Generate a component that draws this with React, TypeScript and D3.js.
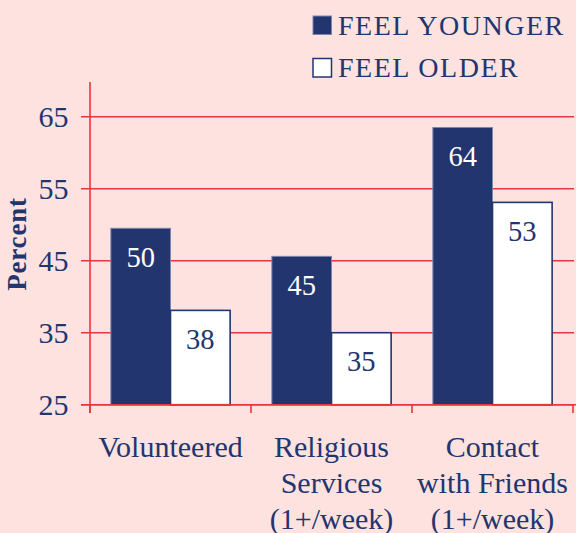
import * as d3 from "d3";

const categories = ["Volunteered", "Religious Services (1+/week)", "Contact with Friends (1+/week)"];
const categoryLines = [["Volunteered"], ["Religious", "Services", "(1+/week)"], ["Contact", "with Friends", "(1+/week)"]];
const series = ["FEEL YOUNGER", "FEEL OLDER"];
const youngerValues = [49.5, 45.6, 63.5];
const olderValues = [38.1, 35, 53.1];
const youngerLabels = ["50", "45", "64"];
const olderLabels = ["38", "35", "53"];
const yTicks = [25, 35, 45, 55, 65];

const W = 576;
const H = 533;
const BG = "#fde2df";
const NAVY = "#22356f";
const RED = "#e8353a";
const FONT = '"Liberation Serif", "Times New Roman", serif';

const left = 90;
const right = 573;
const bottom = 404.7;
const axisTop = 82;

export default function App() {
  const y = d3.scaleLinear().domain([25, 65]).range([bottom, bottom - 40 * 7.2]);
  const x = d3.scaleBand<string>().domain(categories).range([left, right]).padding(0);
  const xs = d3.scaleBand<string>().domain(series).range([0, x.bandwidth()]).paddingInner(0).paddingOuter(0.35);

  const rows = categories.map((c, i) => ({
    cat: c,
    lines: categoryLines[i],
    vals: [
      { s: series[0], v: youngerValues[i], label: youngerLabels[i] },
      { s: series[1], v: olderValues[i], label: olderLabels[i] },
    ],
  }));

  return (
    <svg width={W} height={H} style={{ position: "absolute", left: 0, top: 0, background: BG, fontFamily: FONT }}>
      <rect x={0} y={0} width={W} height={H} fill={BG} />

      {/* gridlines + y ticks */}
      {yTicks.map((t) => (
        <g key={t}>
          <line x1={left - 9} x2={574} y1={y(t)} y2={y(t)} stroke={RED} strokeWidth={1.4} />
          <text x={68.5} y={y(t) + 10.5} textAnchor="end" fontSize={30} fill={NAVY}>
            {t}
          </text>
        </g>
      ))}

      {/* bars */}
      {rows.map((r) =>
        r.vals.map((d, j) => {
          const bx = (x(r.cat) ?? 0) + (xs(d.s) ?? 0);
          const bw = xs.bandwidth();
          const top = y(d.v);
          return (
            <g key={r.cat + d.s}>
              <rect
                x={bx}
                y={top}
                width={bw}
                height={bottom - top}
                fill={j === 0 ? NAVY : "#ffffff"}
                stroke={j === 0 ? "#7a86aa" : NAVY}
                strokeWidth={j === 0 ? 1 : 1.6}
              />
              <text
                x={bx + bw / 2}
                y={top + 38.5}
                textAnchor="middle"
                fontSize={28.5}
                fill={j === 0 ? "#ffffff" : NAVY}
              >
                {d.label}
              </text>
            </g>
          );
        })
      )}

      {/* axes */}
      <line x1={left} x2={left} y1={axisTop} y2={413} stroke={RED} strokeWidth={1.6} />
      <line x1={left - 9} x2={576} y1={bottom} y2={bottom} stroke={RED} strokeWidth={1.6} />
      {[...categories.map((c) => x(c) ?? 0), right].map((tx, i) => (
        <line key={i} x1={tx} x2={tx} y1={bottom} y2={413} stroke={RED} strokeWidth={1.6} />
      ))}

      {/* x labels */}
      {rows.map((r) =>
        r.lines.map((ln, k) => (
          <text
            key={r.cat + k}
            x={(x(r.cat) ?? 0) + x.bandwidth() / 2}
            y={457 + k * 36}
            textAnchor="middle"
            fontSize={30}
            fill={NAVY}
          >
            {ln}
          </text>
        ))
      )}

      {/* y title */}
      <text
        transform={`translate(26,244) rotate(-90)`}
        textAnchor="middle"
        fontSize={27}
        letterSpacing={0.8}
        fontWeight="bold"
        fill={NAVY}
      >
        Percent
      </text>

      {/* legend */}
      {series.map((s, i) => (
        <g key={s} transform={`translate(313,${16 + i * 42.5})`}>
          <rect
            x={0}
            y={0}
            width={18.5}
            height={18.5}
            fill={i === 0 ? NAVY : "#ffffff"}
            stroke={i === 0 ? "#7a86aa" : NAVY}
            strokeWidth={i === 0 ? 1 : 1.5}
          />
          <text x={25} y={18.5} fontSize={28} letterSpacing={1.5} fill={NAVY}>
            {s}
          </text>
        </g>
      ))}
    </svg>
  );
}
